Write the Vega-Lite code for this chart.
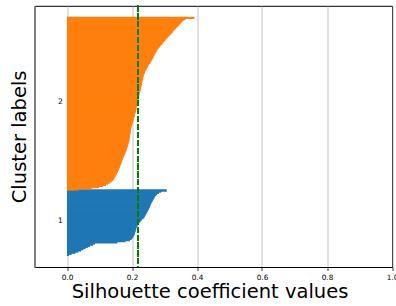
{
  "$schema": "https://vega.github.io/schema/vega-lite/v6.json",
  "width": 357.5,
  "height": 261.2,
  "autosize": {"type": "none"},
  "padding": {"left": 34.5, "top": 5.8, "right": 4, "bottom": 39},
  "config": {
    "view": {"stroke": "black", "strokeWidth": 1},
    "font": "DejaVu Sans",
    "axis": {"labelFont": "DejaVu Sans", "titleFont": "DejaVu Sans", "titleFontWeight": "normal", "labelColor": "black", "titleColor": "black"}
  },
  "data": {"values": [
    {"c":"1","i":10,"s":0.006},{"c":"1","i":11,"s":0.014},{"c":"1","i":12,"s":0.026},{"c":"1","i":13,"s":0.035},{"c":"1","i":14,"s":0.043},
    {"c":"1","i":15,"s":0.050},{"c":"1","i":16,"s":0.057},{"c":"1","i":17,"s":0.064},{"c":"1","i":18,"s":0.071},{"c":"1","i":19,"s":0.080},
    {"c":"1","i":20,"s":0.086},{"c":"1","i":21,"s":0.155},{"c":"1","i":22,"s":0.180},{"c":"1","i":23,"s":0.194},{"c":"1","i":24,"s":0.199},
    {"c":"1","i":25,"s":0.202},{"c":"1","i":26,"s":0.204},{"c":"1","i":27,"s":0.206},{"c":"1","i":28,"s":0.208},{"c":"1","i":29,"s":0.209},
    {"c":"1","i":30,"s":0.210},{"c":"1","i":31,"s":0.211},{"c":"1","i":32,"s":0.212},{"c":"1","i":33,"s":0.213},{"c":"1","i":34,"s":0.214},
    {"c":"1","i":35,"s":0.216},{"c":"1","i":36,"s":0.218},{"c":"1","i":37,"s":0.220},{"c":"1","i":38,"s":0.222},{"c":"1","i":39,"s":0.225},
    {"c":"1","i":40,"s":0.228},{"c":"1","i":41,"s":0.231},{"c":"1","i":42,"s":0.235},{"c":"1","i":43,"s":0.238},{"c":"1","i":44,"s":0.240},
    {"c":"1","i":45,"s":0.242},{"c":"1","i":46,"s":0.244},{"c":"1","i":47,"s":0.246},{"c":"1","i":48,"s":0.248},{"c":"1","i":49,"s":0.250},
    {"c":"1","i":50,"s":0.252},{"c":"1","i":51,"s":0.253},{"c":"1","i":52,"s":0.255},{"c":"1","i":53,"s":0.256},{"c":"1","i":54,"s":0.258},
    {"c":"1","i":55,"s":0.259},{"c":"1","i":56,"s":0.261},{"c":"1","i":57,"s":0.263},{"c":"1","i":58,"s":0.265},{"c":"1","i":59,"s":0.267},
    {"c":"1","i":60,"s":0.269},{"c":"1","i":61,"s":0.271},{"c":"1","i":62,"s":0.274},{"c":"1","i":63,"s":0.277},{"c":"1","i":64,"s":0.283},
    {"c":"1","i":65,"s":0.290},{"c":"1","i":66,"s":0.307},
    {"c":"2","i":67,"s":0.035},{"c":"2","i":68,"s":0.076},{"c":"2","i":69,"s":0.099},{"c":"2","i":70,"s":0.111},{"c":"2","i":71,"s":0.120},
    {"c":"2","i":72,"s":0.126},{"c":"2","i":73,"s":0.132},{"c":"2","i":74,"s":0.137},{"c":"2","i":75,"s":0.141},{"c":"2","i":76,"s":0.144},
    {"c":"2","i":77,"s":0.146},{"c":"2","i":78,"s":0.148},{"c":"2","i":79,"s":0.150},{"c":"2","i":80,"s":0.152},{"c":"2","i":81,"s":0.154},
    {"c":"2","i":82,"s":0.156},{"c":"2","i":83,"s":0.157},{"c":"2","i":84,"s":0.159},{"c":"2","i":85,"s":0.160},{"c":"2","i":86,"s":0.162},
    {"c":"2","i":87,"s":0.163},{"c":"2","i":88,"s":0.164},{"c":"2","i":89,"s":0.166},{"c":"2","i":90,"s":0.167},{"c":"2","i":91,"s":0.168},
    {"c":"2","i":92,"s":0.170},{"c":"2","i":93,"s":0.171},{"c":"2","i":94,"s":0.172},{"c":"2","i":95,"s":0.174},{"c":"2","i":96,"s":0.175},
    {"c":"2","i":97,"s":0.177},{"c":"2","i":98,"s":0.178},{"c":"2","i":99,"s":0.180},{"c":"2","i":100,"s":0.181},{"c":"2","i":101,"s":0.183},
    {"c":"2","i":102,"s":0.184},{"c":"2","i":103,"s":0.185},{"c":"2","i":104,"s":0.186},{"c":"2","i":105,"s":0.187},{"c":"2","i":106,"s":0.188},
    {"c":"2","i":107,"s":0.189},{"c":"2","i":108,"s":0.190},{"c":"2","i":109,"s":0.191},{"c":"2","i":110,"s":0.192},{"c":"2","i":111,"s":0.192},
    {"c":"2","i":112,"s":0.193},{"c":"2","i":113,"s":0.194},{"c":"2","i":114,"s":0.194},{"c":"2","i":115,"s":0.195},{"c":"2","i":116,"s":0.195},
    {"c":"2","i":117,"s":0.196},{"c":"2","i":118,"s":0.196},{"c":"2","i":119,"s":0.197},{"c":"2","i":120,"s":0.197},{"c":"2","i":121,"s":0.198},
    {"c":"2","i":122,"s":0.199},{"c":"2","i":123,"s":0.200},{"c":"2","i":124,"s":0.201},{"c":"2","i":125,"s":0.202},{"c":"2","i":126,"s":0.203},
    {"c":"2","i":127,"s":0.204},{"c":"2","i":128,"s":0.205},{"c":"2","i":129,"s":0.206},{"c":"2","i":130,"s":0.207},{"c":"2","i":131,"s":0.208},
    {"c":"2","i":132,"s":0.209},{"c":"2","i":133,"s":0.210},{"c":"2","i":134,"s":0.211},{"c":"2","i":135,"s":0.212},{"c":"2","i":136,"s":0.213},
    {"c":"2","i":137,"s":0.213},{"c":"2","i":138,"s":0.214},{"c":"2","i":139,"s":0.215},{"c":"2","i":140,"s":0.216},{"c":"2","i":141,"s":0.217},
    {"c":"2","i":142,"s":0.217},{"c":"2","i":143,"s":0.218},{"c":"2","i":144,"s":0.219},{"c":"2","i":145,"s":0.219},{"c":"2","i":146,"s":0.220},
    {"c":"2","i":147,"s":0.221},{"c":"2","i":148,"s":0.222},{"c":"2","i":149,"s":0.222},{"c":"2","i":150,"s":0.223},{"c":"2","i":151,"s":0.224},
    {"c":"2","i":152,"s":0.225},{"c":"2","i":153,"s":0.226},{"c":"2","i":154,"s":0.227},{"c":"2","i":155,"s":0.227},{"c":"2","i":156,"s":0.228},
    {"c":"2","i":157,"s":0.229},{"c":"2","i":158,"s":0.230},{"c":"2","i":159,"s":0.231},{"c":"2","i":160,"s":0.231},{"c":"2","i":161,"s":0.232},
    {"c":"2","i":162,"s":0.233},{"c":"2","i":163,"s":0.233},{"c":"2","i":164,"s":0.234},{"c":"2","i":165,"s":0.235},{"c":"2","i":166,"s":0.236},
    {"c":"2","i":167,"s":0.237},{"c":"2","i":168,"s":0.239},{"c":"2","i":169,"s":0.240},{"c":"2","i":170,"s":0.241},{"c":"2","i":171,"s":0.243},
    {"c":"2","i":172,"s":0.245},{"c":"2","i":173,"s":0.247},{"c":"2","i":174,"s":0.249},{"c":"2","i":175,"s":0.251},{"c":"2","i":176,"s":0.253},
    {"c":"2","i":177,"s":0.256},{"c":"2","i":178,"s":0.258},{"c":"2","i":179,"s":0.260},{"c":"2","i":180,"s":0.262},{"c":"2","i":181,"s":0.264},
    {"c":"2","i":182,"s":0.266},{"c":"2","i":183,"s":0.267},{"c":"2","i":184,"s":0.269},{"c":"2","i":185,"s":0.271},{"c":"2","i":186,"s":0.273},
    {"c":"2","i":187,"s":0.275},{"c":"2","i":188,"s":0.277},{"c":"2","i":189,"s":0.279},{"c":"2","i":190,"s":0.282},{"c":"2","i":191,"s":0.285},
    {"c":"2","i":192,"s":0.288},{"c":"2","i":193,"s":0.291},{"c":"2","i":194,"s":0.294},{"c":"2","i":195,"s":0.297},{"c":"2","i":196,"s":0.300},
    {"c":"2","i":197,"s":0.303},{"c":"2","i":198,"s":0.306},{"c":"2","i":199,"s":0.309},{"c":"2","i":200,"s":0.312},{"c":"2","i":201,"s":0.316},
    {"c":"2","i":202,"s":0.319},{"c":"2","i":203,"s":0.322},{"c":"2","i":204,"s":0.325},{"c":"2","i":205,"s":0.328},{"c":"2","i":206,"s":0.331},
    {"c":"2","i":207,"s":0.335},{"c":"2","i":208,"s":0.338},{"c":"2","i":209,"s":0.341},{"c":"2","i":210,"s":0.345},{"c":"2","i":211,"s":0.348},
    {"c":"2","i":212,"s":0.351},{"c":"2","i":213,"s":0.354},{"c":"2","i":214,"s":0.358},{"c":"2","i":215,"s":0.365},{"c":"2","i":216,"s":0.392}
  ]},
  "layer": [
    {
      "mark": {"type": "bar", "orient": "horizontal", "height": 2.4},
      "encoding": {
        "y": {"field": "i", "type": "quantitative", "scale": {"domain": [-0.5, 226.5], "nice": false, "zero": false, "padding": 0, "round": false},
          "axis": {"title": "Cluster labels", "ticks": false, "labels": false, "grid": false, "domainColor": "#808080", "domainWidth": 1.6,
            "titleFontSize": 19.5, "titlePadding": 9.5, "titleBaseline": "alphabetic"}},
        "x": {"field": "s", "type": "quantitative", "stack": null, "scale": {"domain": [-0.1, 1.0], "nice": false, "padding": 0},
          "axis": {"title": "Silhouette coefficient values", "values": [0, 0.2, 0.4, 0.6, 0.8, 1.0], "format": ".1f",
            "grid": true, "gridColor": "#b0b0b0", "gridWidth": 0.8, "tickColor": "black", "tickSize": 3.5, "tickWidth": 0.8,
            "domainColor": "black", "domainWidth": 1, "labelFontSize": 7.3, "labelPadding": 2.5, "labelFlush": false, "labelOverlap": false,
            "titleFontSize": 19.5, "titlePadding": 2, "titleX": 175}},
        "color": {"field": "c", "type": "nominal", "scale": {"domain": ["1", "2"], "range": ["#1f77b4", "#ff7f0e"]}, "legend": null}
      }
    },
    {
      "mark": {"type": "rule", "color": "#008000", "strokeWidth": 1.5, "strokeDash": [5.5, 2.4]},
      "encoding": {"x": {"datum": 0.218}}
    },
    {
      "mark": {"type": "text", "align": "left", "baseline": "alphabetic", "fontSize": 7.5, "font": "DejaVu Sans", "color": "black"},
      "encoding": {
        "x": {"datum": -0.028},
        "y": {"field": "i", "aggregate": "mean", "type": "quantitative"},
        "text": {"field": "c", "type": "nominal"}
      }
    }
  ]
}
